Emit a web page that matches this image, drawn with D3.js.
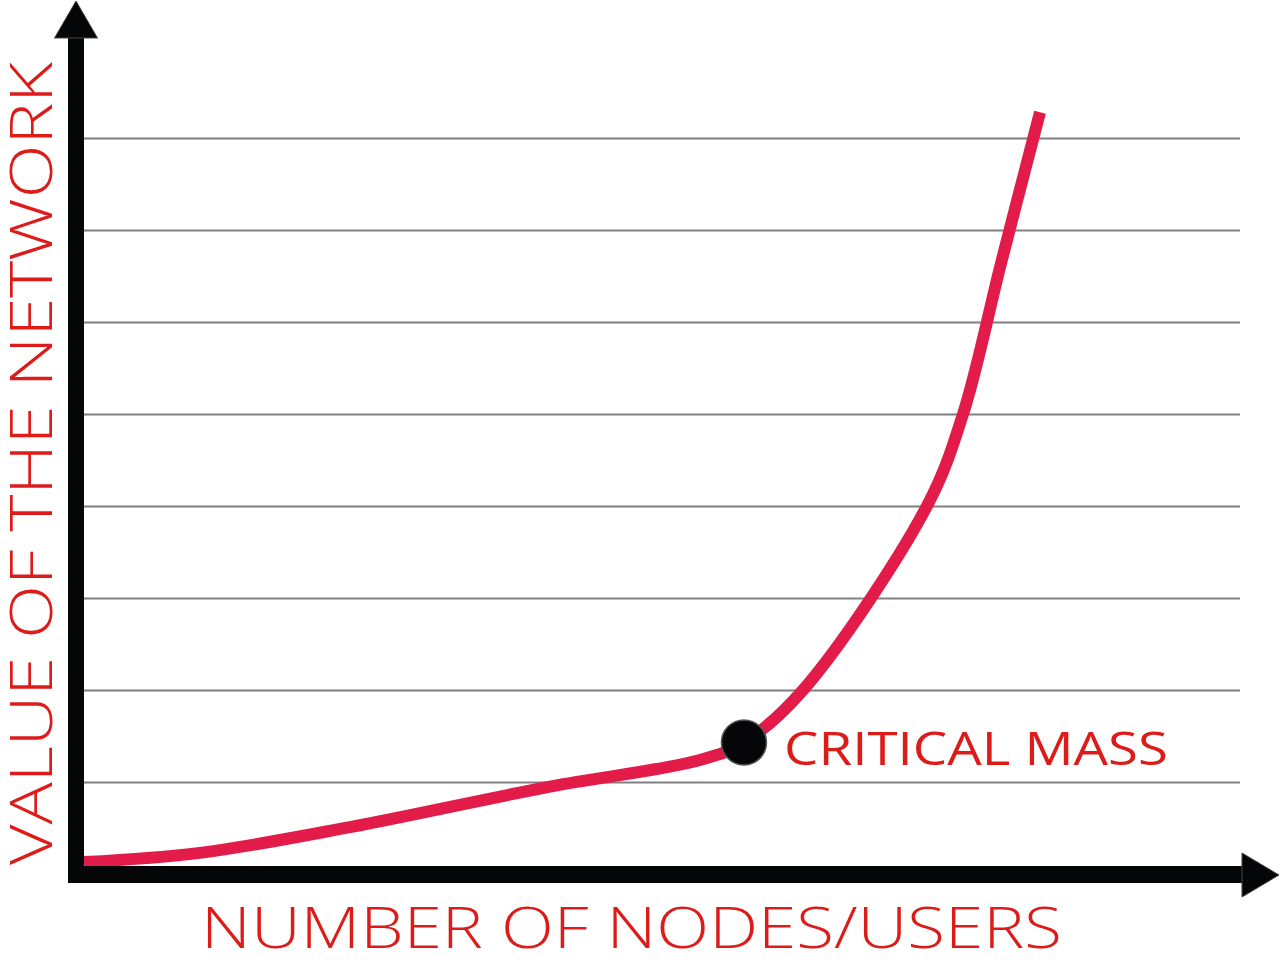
<!DOCTYPE html>
<html><head><meta charset="utf-8">
<script src="https://cdn.jsdelivr.net/npm/d3@7"></script>
<style>html,body{margin:0;padding:0;background:#fff;}svg{display:block;}</style>
</head><body>
<script>
// Data (x: nodes/users, arbitrary units; y: value of network in gridline units)
const curveX = [0, 10.03, 23.01, 40.31, 53.29, 57.09, 62.20, 72.92, 76.04, 79.33, 82.70];
const curveY = [0.13, 0.23, 0.51, 0.95, 1.24, 1.43, 2.00, 4.00, 5.00, 6.64, 8.28];
const gridValues = [1, 2, 3, 4, 5, 6, 7, 8];
const criticalMass = {x: 57.09, y: 1.43, label: "CRITICAL MASS"};
const xTitle = "NUMBER OF NODES/USERS";
const yTitle = "VALUE OF THE NETWORK";

const W = 1280, H = 965;
const svg = d3.select("body").append("svg").attr("width", W).attr("height", H);

const x = d3.scaleLinear().domain([0, 100]).range([84, 1240]);
const y = d3.scaleLinear().domain([0, 8]).range([874, 138]);

// gridlines
const grid = svg.append("g").attr("transform", `translate(${x(0)},0)`)
  .call(d3.axisRight(y).tickValues(gridValues).tickSize(x(100) - x(0)).tickFormat(""));
grid.select(".domain").remove();
grid.selectAll(".tick line").attr("stroke", "#808080").attr("stroke-width", 2);

// curve
const pts = curveX.map((d, i) => [d, curveY[i]]);
const line = d3.line().x(d => x(d[0])).y(d => y(d[1])).curve(d3.curveCatmullRom.alpha(0.5));
svg.append("path").datum(pts).attr("d", line)
  .attr("fill", "none").attr("stroke", "#e31b48").attr("stroke-width", 12)
  .attr("stroke-linecap", "butt").attr("stroke-linejoin", "round");

// axes
const ax = x(0) - 8, ay = y(0) + 0.5;
svg.append("line").attr("x1", ax).attr("x2", ax).attr("y1", ay + 8.5).attr("y2", 36)
  .attr("stroke", "#050608").attr("stroke-width", 16);
svg.append("line").attr("x1", ax - 8).attr("x2", 1243).attr("y1", ay).attr("y2", ay)
  .attr("stroke", "#050608").attr("stroke-width", 17);
svg.append("path").attr("d", `M${ax - 21.5},38 L${ax + 21.5},38 L${ax},1 Z`)
  .attr("fill", "#050608").attr("stroke", "#444").attr("stroke-width", 1);
svg.append("path").attr("d", `M1242,853 L1242,897 L1279,875 Z`)
  .attr("fill", "#050608").attr("stroke", "#444").attr("stroke-width", 1);

// critical mass dot + label
svg.append("circle").attr("cx", x(criticalMass.x)).attr("cy", y(criticalMass.y)).attr("r", 22.5)
  .attr("fill", "#050608").attr("stroke", "#555").attr("stroke-width", 1.5);
svg.append("text").attr("x", 784).attr("y", 765)
  .attr("font-family", "'Open Sans', sans-serif").attr("font-weight", 500).attr("font-size", 46)
  .attr("fill", "#dd1c1a").attr("textLength", 384).attr("lengthAdjust", "spacingAndGlyphs")
  .text(criticalMass.label);

// axis titles
svg.append("text").attr("x", 201).attr("y", 948)
  .attr("font-family", "'Open Sans', sans-serif").attr("font-weight", 300).attr("font-size", 57)
  .attr("fill", "#dd1c1a").attr("textLength", 861).attr("lengthAdjust", "spacingAndGlyphs")
  .text(xTitle);
svg.append("text").attr("transform", "translate(52,865) rotate(-90)")
  .attr("font-family", "'Open Sans', sans-serif").attr("font-weight", 300).attr("font-size", 58)
  .attr("fill", "#dd1c1a").attr("textLength", 803).attr("lengthAdjust", "spacingAndGlyphs")
  .text(yTitle);
</script>
</body></html>
